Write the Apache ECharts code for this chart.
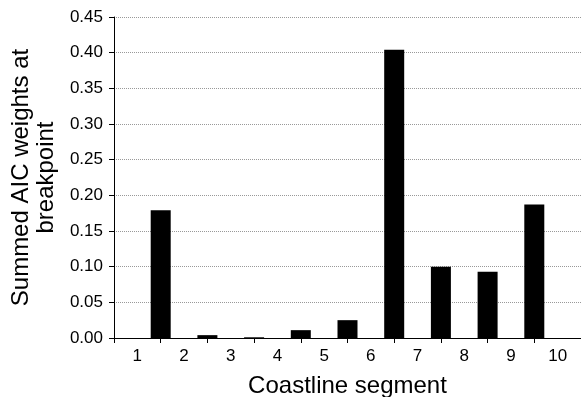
<!DOCTYPE html>
<html>
<head>
<meta charset="utf-8">
<script src="https://cdn.jsdelivr.net/npm/echarts@6/dist/echarts.min.js"></script>
<style>
  html, body { margin: 0; padding: 0; background: #fff; }
  #chart { width: 581px; height: 397px; }
</style>
</head>
<body>
<div id="chart"></div>
<script>
// coastline segments (x labels, centred in each slot)
const segments = ['1', '2', '3', '4', '5', '6', '7', '8', '9', '10'];
// breakpoints sit on the boundary between segment i and i+1
const breakpoints = [1, 2, 3, 4, 5, 6, 7, 8, 9];
const aicWeights = [0.179, 0.004, 0.001, 0.011, 0.025, 0.404, 0.100, 0.093, 0.187];

const font = "'Liberation Sans', Arial, sans-serif";

const chart = echarts.init(document.getElementById('chart'));
chart.setOption({
  animation: false,
  backgroundColor: '#fff',
  grid: { left: 114, right: 0, top: 17, bottom: 59, containLabel: false, outerBoundsMode: 'none' },
  xAxis: [
    {
      type: 'category',
      data: segments,
      boundaryGap: true,
      axisLine: { lineStyle: { color: '#000', width: 1 } },
      axisTick: { show: true, length: 5, lineStyle: { color: '#000' } },
      axisLabel: { color: '#000', fontSize: 17, fontFamily: font, margin: 10 },
      splitLine: { show: false },
      name: 'Coastline segment',
      nameLocation: 'middle',
      nameGap: 36,
      nameTextStyle: { color: '#000', fontSize: 24, fontFamily: font }
    },
    {
      type: 'value',
      min: 0,
      max: 10,
      show: false
    }
  ],
  yAxis: {
    type: 'value',
    min: 0,
    max: 0.45,
    interval: 0.05,
    axisLine: { show: true, lineStyle: { color: '#000', width: 1 } },
    axisTick: { show: true, length: 5, lineStyle: { color: '#000' } },
    axisLabel: {
      color: '#000', fontSize: 17, fontFamily: font, margin: 11,
      formatter: v => v.toFixed(2)
    },
    splitLine: { show: true, lineStyle: { color: '#999', type: 'dotted', width: 1 } },
    name: 'Summed AIC weights at\nbreakpoint',
    nameLocation: 'middle',
    nameGap: 55,
    nameTextStyle: { color: '#000', fontSize: 24, fontFamily: font, lineHeight: 25 }
  },
  series: [{
    type: 'bar',
    xAxisIndex: 1,
    barWidth: 20,
    itemStyle: { color: '#000' },
    data: breakpoints.map((b, i) => [b, aicWeights[i]])
  }]
});
</script>
</body>
</html>
